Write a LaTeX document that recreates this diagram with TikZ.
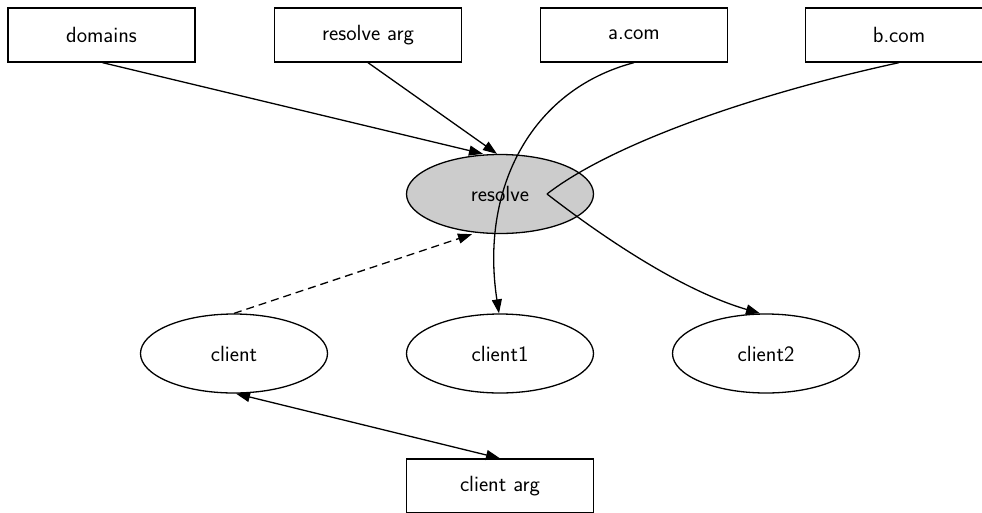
\documentclass[tikz,border=0pt]{standalone}
\usetikzlibrary{arrows.meta,calc,shapes.geometric}
\definecolor{resfill}{RGB}{204,204,204}
\begin{document}
\begin{tikzpicture}[x=1pt,y=-1pt,
  lbl/.style={font=\sffamily\fontsize{22}{26}\selectfont, line width=1.3pt, draw=black},
  boxnode/.style={lbl, rectangle, minimum width=187pt, minimum height=54pt, inner sep=0pt},
  ellnode/.style={lbl, ellipse, minimum width=187pt, minimum height=79pt, inner sep=0pt},
  conn/.style={line width=1.3pt, -{Triangle[length=14pt,width=10pt]}},
  biconn/.style={line width=1.3pt, {Triangle[length=14pt,width=10pt]}-{Triangle[length=14pt,width=10pt]}},
  dashconn/.style={conn, dash pattern=on 8pt off 5pt},
]
\fill[white] (0,0) rectangle (982,512);
\useasboundingbox (0,0) rectangle (982,512);

\node[boxnode] (domains) at (101.5,35) {domains};
\node[boxnode] (rarg) at (368,35) {resolve arg};
\node[boxnode] (acom) at (634,35) {a.com};
\node[boxnode] (bcom) at (899,35) {b.com};

\node[ellnode, fill=resfill] (resolve) at (500,194) {resolve};

\node[ellnode] (client) at (234,353.5) {client};
\node[ellnode] (client1) at (500,353.5) {client1};
\node[ellnode] (client2) at (766,353.5) {client2};

\node[boxnode] (carg) at (500,486) {client arg};

\coordinate (kink) at (547,194);

\draw[conn] ($(domains.south)+(1,0)$) -- ($(resolve.north)+(-17,0)$);
\draw[conn] (rarg.south) -- ($(resolve.north)+(-3,0)$);
\draw[conn] (acom.south) .. controls (530,90) and (480,190) .. ($(client1.north)+(-1,0)$);
\draw[line width=1.3pt] (bcom.south) .. controls (750,95) and (610,145) .. (kink);
\draw[conn] (kink) .. controls (600,235) and (680,290) .. ($(client2.north)+(-6,0)$);
\draw[dashconn] (client.north) -- ($(resolve.south)+(-28,0)$);
\draw[biconn] ($(client.south)+(2,0)$) -- (carg.north);
\end{tikzpicture}
\end{document}
